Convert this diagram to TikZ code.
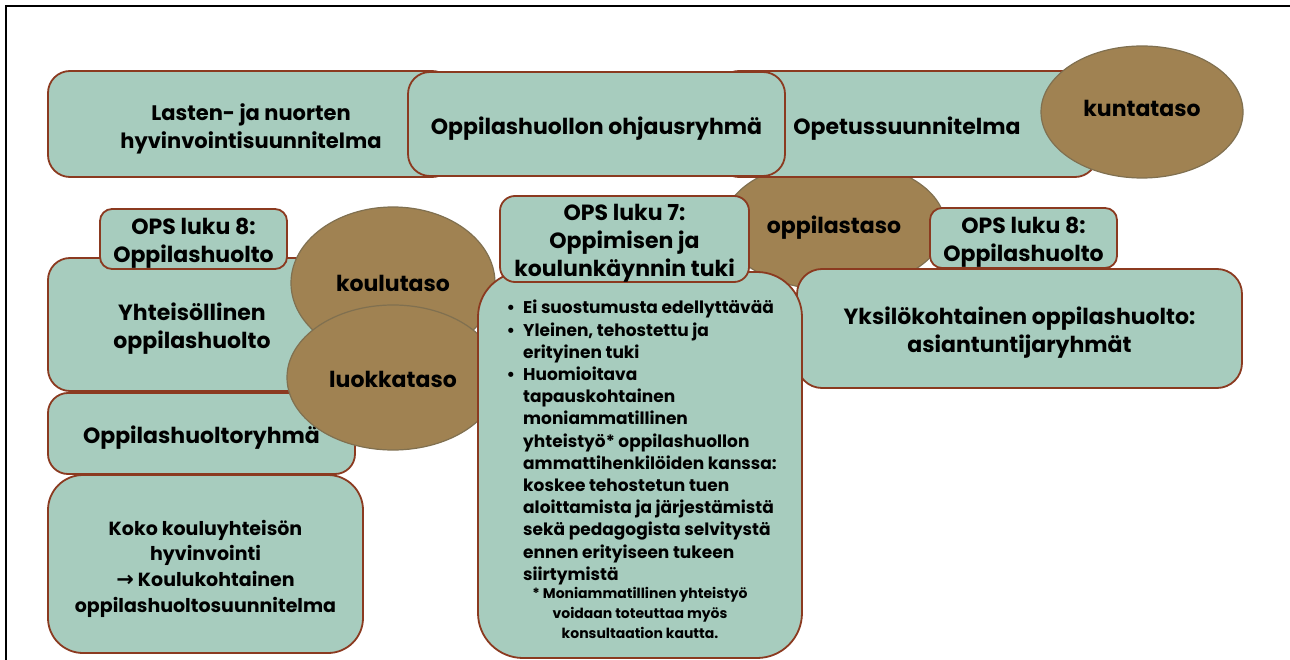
\documentclass[tikz,border=0pt]{standalone}
\usepackage{fontspec}
\setmainfont{Poppins}
\newfontfamily\arrowfont{DejaVu Sans}
\usetikzlibrary{shapes.geometric}
\definecolor{boxfill}{HTML}{A7CCBE}
\definecolor{boxline}{HTML}{8B3A20}
\definecolor{ovalfill}{HTML}{A08252}
\definecolor{ovalline}{HTML}{807050}
\begin{document}
\begin{tikzpicture}[x=1pt,y=-1pt,
  box/.style={draw=boxline, fill=boxfill, line width=1.8pt, rounded corners=#1, inner sep=0pt},
  box/.default=22pt,
  oval/.style={ellipse, draw=ovalline, fill=ovalfill, line width=1.2pt, inner sep=0pt},
  lbl/.style={inner sep=0pt, align=center, font=\bfseries\fontsize{22}{28}\selectfont},
  bodytext/.style={inner sep=0pt, align=left, font=\bfseries\fontsize{17}{22.2}\selectfont},
  notetext/.style={inner sep=0pt, align=center, font=\bfseries\fontsize{14}{20}\selectfont}
]
\useasboundingbox (0,0) rectangle (1290,660);
\fill[white] (0,0) rectangle (1290,660);
\draw[line width=2.5pt] (6,660) -- (6,6) -- (1290,6);

\node[oval, minimum width=222pt, minimum height=130pt] (oppil) at (834,225) {};
\node[lbl] (oppil-t) at ([yshift=-3pt]oppil.center) {oppilastaso};
\node[box, minimum width=406pt, minimum height=106pt] (lasten) at (251,124) {};
\node[lbl, font=\bfseries\fontsize{21}{28}\selectfont] (lasten-t) at ([yshift=-4.5pt]lasten.center) {Lasten- ja nuorten\\hyvinvointisuunnitelma};
\node[box, minimum width=380pt, minimum height=106pt] (opetus) at (907,124) {};
\node[lbl] (opetus-t) at ([yshift=-4.5pt]opetus.center) {Opetussuunnitelma};
\node[box, minimum width=377pt, minimum height=104pt] (ohjaus) at (596.5,124) {};
\node[lbl] (ohjaus-t) at ([yshift=-4.5pt]ohjaus.center) {Oppilashuollon ohjausryhmä};
\node[oval, minimum width=202pt, minimum height=132pt] (kunta) at (1142,112) {};
\node[lbl] (kunta-t) at ([yshift=4pt]kunta.center) {kuntataso};
\node[box, minimum width=288pt, minimum height=133pt] (yhteis) at (192,324.5) {};
\node[lbl] (yhteis-t) at ([yshift=-4.5pt]yhteis.center) {Yhteisöllinen\\oppilashuolto};
\node[box=12pt, minimum width=187pt, minimum height=60pt] (ops8l) at (193.5,239) {};
\node[lbl] (ops8l-t) at ([yshift=-4.5pt]ops8l.center) {OPS luku 8:\\Oppilashuolto};
\node[oval, minimum width=204pt, minimum height=152pt] (koulu) at (393,283) {};
\node[lbl] (koulu-t) at (koulu.center) {koulutaso};
\node[box=20pt, minimum width=307pt, minimum height=81pt] (ryhma) at (201.5,433.5) {};
\node[lbl] (ryhma-t) at ([yshift=-4.5pt]ryhma.center) {Oppilashuoltoryhmä};
\node[box=35pt, minimum width=315pt, minimum height=178pt] (koko) at (205.5,564) {};
\node[lbl, font=\bfseries\fontsize{19}{25.7}\selectfont] (koko-t) at ([yshift=-4.5pt]koko.center) {Koko kouluyhteisön\\hyvinvointi\\{\arrowfont\bfseries\fontsize{21}{25.7}\selectfont →} Koulukohtainen\\oppilashuoltosuunnitelma};
\node[oval, minimum width=212pt, minimum height=145pt] (luokka) at (393,377.5) {};
\node[lbl] (luokka-t) at ([yshift=-2pt]luokka.center) {luokkataso};
\node[box=25pt, minimum width=445pt, minimum height=119pt] (yksilo) at (1019.5,328.5) {};
\node[lbl] (yksilo-t) at ([yshift=-4.5pt]yksilo.center) {Yksilökohtainen oppilashuolto:\\asiantuntijaryhmät};
\node[box=45pt, minimum width=324pt, minimum height=386pt] (tall) at (640,465) {};
\node[box=15pt, minimum width=249pt, minimum height=86pt] (ops7) at (624.5,239) {};
\node[lbl] (ops7-t) at ([yshift=-4.5pt]ops7.center) {OPS luku 7:\\Oppimisen ja\\koulunkäynnin tuki};
\node[box=12pt, minimum width=187pt, minimum height=60pt] (ops8r) at (1023.5,238) {};
\node[lbl] (ops8r-t) at ([yshift=-4.5pt]ops8r.center) {OPS luku 8:\\Oppilashuolto};

\node[bodytext, anchor=north west] (tallt) at (523,300) {\llap{•\hspace{8pt}}Ei suostumusta edellyttävää\\
\llap{•\hspace{8pt}}Yleinen, tehostettu ja\\
erityinen tuki\\
\llap{•\hspace{8pt}}Huomioitava\\
tapauskohtainen\\
moniammatillinen\\
yhteistyö* oppilashuollon\\
ammattihenkilöiden kanssa:\\
koskee tehostetun tuen\\
aloittamista ja järjestämistä\\
sekä pedagogista selvitystä\\
ennen erityiseen tukeen\\
siirtymistä};
\node[notetext] (note) at (640,613) {* Moniammatillinen yhteistyö\\voidaan toteuttaa myös\\konsultaation kautta.};
\end{tikzpicture}
\end{document}
